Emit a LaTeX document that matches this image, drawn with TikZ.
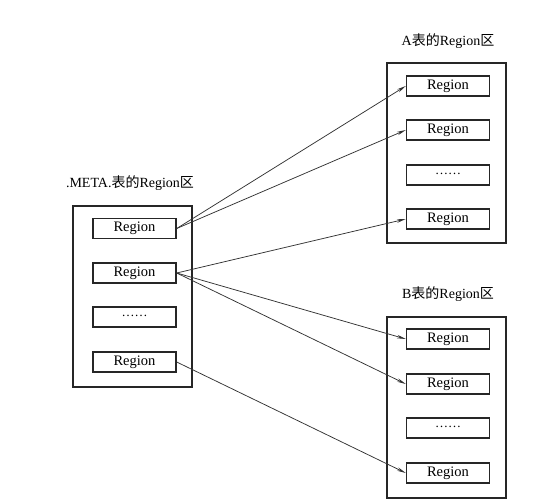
\documentclass[tikz,border=0pt]{standalone}
\usepackage{fontspec}
\setmainfont{Liberation Serif}
\newfontfamily\cjk{Noto Sans CJK SC}
\usetikzlibrary{arrows.meta}
\begin{document}
\begin{tikzpicture}[x=1pt,y=-1pt,
  outer/.style={draw=black!85,line width=1.5pt},
  regbox/.style={draw=black!85,line width=1.4pt,minimum width=83pt,minimum height=20pt,inner sep=0pt,font=\fontsize{14.5}{15}\selectfont},
  ttl/.style={font=\fontsize{14}{15}\selectfont},
  dots/.style={regbox,font=\fontsize{13}{13}\selectfont},
  link/.style={draw=black!80,line width=0.75pt,-{Stealth[length=9pt,width=3.5pt]}}]
\useasboundingbox (0,0) rectangle (549,503);
% left
\node[ttl] (tm) at (130,183) {.META.{\cjk 表的}Region{\cjk 区}};
\draw[outer] (73,206) rectangle (192,387);
\node[regbox] (m1) at (134.5,228.5) {Region};
\node[regbox] (m2) at (134.5,273) {Region};
\node[dots] (m3) at (134.5,317) {\raisebox{3pt}{……}};
\node[regbox] (m4) at (134.5,362) {Region};
% A
\node[ttl] (ta) at (448,41) {A{\cjk 表的}Region{\cjk 区}};
\draw[outer] (387,63) rectangle (506,243);
\node[regbox] (a1) at (448,86) {Region};
\node[regbox] (a2) at (448,130) {Region};
\node[dots] (a3) at (448,175) {\raisebox{3pt}{……}};
\node[regbox] (a4) at (448,219) {Region};
% B
\node[ttl] (tb) at (448,294) {B{\cjk 表的}Region{\cjk 区}};
\draw[outer] (387,317) rectangle (506,498);
\node[regbox] (b1) at (448,339) {Region};
\node[regbox] (b2) at (448,384) {Region};
\node[dots] (b3) at (448,428) {\raisebox{3pt}{……}};
\node[regbox] (b4) at (448,473) {Region};
% links
\draw[link] (m1.east) -- (a1.west);
\draw[link] (m1.east) -- (a2.west);
\draw[link] (m2.east) -- (a4.west);
\draw[link] (m2.east) -- (b1.west);
\draw[link] (m2.east) -- (b2.west);
\draw[link] (m4.east) -- (b4.west);
\end{tikzpicture}
\end{document}
